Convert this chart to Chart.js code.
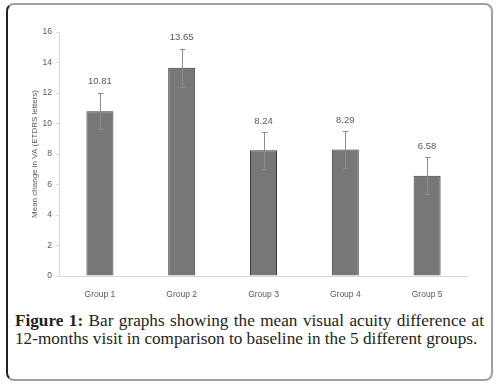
<!DOCTYPE html>
<html>
<head>
<meta charset="utf-8">
<script src="https://cdn.jsdelivr.net/npm/chart.js@4/dist/chart.umd.min.js"></script>
<style>
  body { margin: 0; background: #fff; width: 503px; height: 387px; position: relative; overflow: hidden; }
  #frame { position: absolute; left: 6px; top: 3px; width: 483px; height: 374px;
    border: 2px solid #a0a0a0; border-left-color: #222; border-radius: 8px; }
  #wrap { position: absolute; left: 0; top: 0; width: 503px; height: 300px; }
  #caption { position: absolute; left: 15px; top: 312px; width: 469px;
    font-family: "Liberation Serif", "DejaVu Serif", serif; font-size: 17.2px; line-height: 18px;
    color: #231f20; text-align: justify; }
  #caption b { font-weight: 600; }
  .nw { white-space: nowrap; }
</style>
</head>
<body>
<div id="frame"></div>
<div id="wrap"><canvas id="chart" width="503" height="300"></canvas></div>
<div id="caption"><b>Figure 1:</b> Bar graphs showing the mean visual acuity difference at <span class="nw">12-months</span> visit in comparison to baseline in the 5 different groups.</div>
<script>
const groups = ["Group 1", "Group 2", "Group 3", "Group 4", "Group 5"]
const meanChange = [10.81, 13.65, 8.24, 8.29, 6.58]
const errors = [1.2, 1.25, 1.2, 1.2, 1.2]
const yTicks = [0, 2, 4, 6, 8, 10, 12, 14, 16]

// error bars + value labels on top of the bars
const errorBars = {
    id: 'errorBars',
    afterDatasetsDraw(chart) {
        const ctx = chart.ctx
        const y = chart.scales.y
        const meta = chart.getDatasetMeta(0)
        ctx.save()
        meta.data.forEach((bar, i) => {
            const top = y.getPixelForValue(meanChange[i] + errors[i])
            const bottom = y.getPixelForValue(meanChange[i] - errors[i])
            const x = Math.round(bar.x) + 0.5
            ctx.strokeStyle = '#8c8c8c'
            ctx.lineWidth = 1
            ctx.beginPath()
            ctx.moveTo(x, top); ctx.lineTo(x, bottom)
            ctx.moveTo(x - 2.5, Math.round(top) + 0.5); ctx.lineTo(x + 3, Math.round(top) + 0.5)
            ctx.moveTo(x - 2.5, Math.round(bottom) + 0.5); ctx.lineTo(x + 3, Math.round(bottom) + 0.5)
            ctx.stroke()
            ctx.fillStyle = '#595959'
            ctx.font = "9.5px 'Liberation Sans', sans-serif"
            ctx.textAlign = 'center'
            ctx.textBaseline = 'middle'
            ctx.fillText(meanChange[i].toFixed(2), bar.x, top - 11)
        })
        ctx.restore()
    }
}

new Chart(document.getElementById('chart').getContext('2d'), {
    type: 'bar',
    data: {
        labels: groups,
        datasets: [{
            data: meanChange,
            backgroundColor: '#777777',
            borderColor: '#3a3a3a',
            borderWidth: 1,
            barPercentage: 0.33,
            categoryPercentage: 1
        }]
    },
    options: {
        responsive: false,
        animation: false,
        layout: { padding: { left: 0, right: 35, top: 32, bottom: 0 } },
        plugins: { legend: { display: false }, tooltip: { enabled: false } },
        scales: {
            x: {
                grid: { display: false },
                border: { color: '#d9d9d9' },
                ticks: { color: '#595959', font: { family: 'Liberation Sans', size: 8.5 }, padding: 6 },
                afterFit: scale => { scale.height = 24 }
            },
            y: {
                min: 0,
                max: 16,
                afterBuildTicks: scale => { scale.ticks = yTicks.map(v => ({ value: v })) },
                grid: { drawOnChartArea: false, tickLength: 3, color: '#d9d9d9' },
                border: { color: '#d9d9d9' },
                ticks: { color: '#595959', font: { family: 'Liberation Sans', size: 8.5 }, padding: 4 },
                title: {
                    display: true,
                    text: 'Mean change in VA (ETDRS letters)',
                    color: '#595959',
                    font: { family: 'Liberation Sans', size: 8 },
                    padding: { top: 30, bottom: 0 }
                },
                afterFit: scale => { scale.width = 59 }
            }
        }
    },
    plugins: [errorBars]
})
</script>
</body>
</html>
